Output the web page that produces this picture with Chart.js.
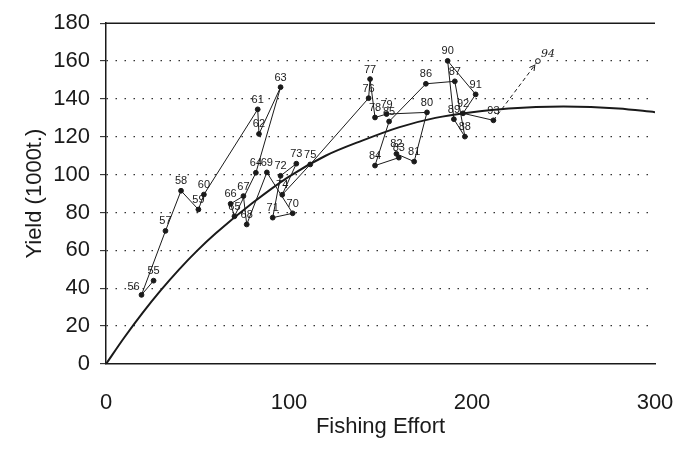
<!DOCTYPE html>
<html lang="en">
<head>
<meta charset="UTF-8">
<title>Fishing Effort vs Yield</title>
<script src="https://cdn.jsdelivr.net/npm/chart.js"></script>
<style>
  html, body { margin: 0; padding: 0; background: #fff; }
</style>
</head>
<body>
<canvas id="yieldChart" width="686" height="450"></canvas>
<script>
// observed yearly points (year label, fishing effort, yield in 1000 t)
const years = ['55','56','57','58','59','60','61','62','63','64','65','66','67','68','69','70','71','72','73','74',
               '75','76','77','78','79','80','81','82','83','84','85','86','87','88','89','90','91','92','93','94'];
const effort = [26, 19.4, 32.5, 41, 50.5, 53.5, 82.9, 83.6, 95.4, 81.9, 70.2, 68.1, 75.1, 76.9, 87.9, 102, 91.1, 95.4, 104, 96.3,
                111.6, 143.5, 144.3, 147, 153.3, 175.4, 168.4, 158.7, 160, 147, 154.7, 174.8, 190.6, 196.1, 190.1, 186.7, 202, 195.1, 211.7, 236];
const yieldObs = [44, 36.5, 70.3, 91.5, 81.6, 89.5, 134.5, 121.5, 146.2, 101, 78, 84.6, 88.7, 73.7, 101.2, 79.6, 77.3, 99.4, 105.8, 89.4,
                  105.4, 140.4, 150.5, 130.2, 132, 132.9, 106.9, 111, 109, 104.8, 128.1, 148, 149.3, 120.1, 129.3, 160.1, 142.4, 132.4, 128.7, 160];

// fitted production curve
const curveEffort = [0, 10, 20, 30, 40, 50, 60, 80, 100, 120, 140, 160, 180, 200, 220, 250, 280, 300];
const curveYield  = [0, 14, 27, 39, 50, 60, 69, 85, 99, 110, 118, 125, 130, 133, 135, 136, 135, 133];

const xTickValues = [0, 100, 200, 300];

const ink = '#1a1a1a';
const lastIdx = years.length - 1;

// label offsets that differ from the default (centred above the point)
const labelShift = { '56': [-8, 2], '94': [10, 3] };

const pointLabels = {
    id: 'pointLabels',
    afterDatasetsDraw(chart) {
        const ctx = chart.ctx;
        const meta = chart.getDatasetMeta(0);
        ctx.save();
        ctx.fillStyle = ink;
        ctx.textAlign = 'center';
        ctx.textBaseline = 'bottom';
        meta.data.forEach((pt, i) => {
            const s = labelShift[years[i]] || [0, 0];
            ctx.font = years[i] === '94' ? 'italic 11px "DejaVu Serif"' : '11px "Liberation Sans"';
            ctx.fillText(years[i], pt.x + s[0], pt.y - 4 + s[1]);
        });
        // small arrow head on the dashed projection to 94
        const a = meta.data[lastIdx - 1], b = meta.data[lastIdx];
        const ang = Math.atan2(b.y - a.y, b.x - a.x);
        const tipX = b.x - 5 * Math.cos(ang), tipY = b.y - 5 * Math.sin(ang);
        ctx.strokeStyle = ink;
        ctx.lineWidth = 1;
        ctx.beginPath();
        ctx.moveTo(tipX - 6 * Math.cos(ang - 0.5), tipY - 6 * Math.sin(ang - 0.5));
        ctx.lineTo(tipX, tipY);
        ctx.lineTo(tipX - 6 * Math.cos(ang + 0.5), tipY - 6 * Math.sin(ang + 0.5));
        ctx.stroke();
        // top frame line
        const area = chart.chartArea;
        ctx.lineWidth = 1.5;
        ctx.beginPath();
        ctx.moveTo(area.left, area.top);
        ctx.lineTo(area.right, area.top);
        ctx.stroke();
        ctx.restore();
    }
};

new Chart(document.getElementById('yieldChart'), {
    type: 'scatter',
    data: {
        datasets: [
            {
                label: 'Observed',
                data: effort.map((e, i) => ({ x: e, y: yieldObs[i] })),
                showLine: true,
                borderColor: ink,
                borderWidth: 1,
                pointRadius: 2.4,
                pointHoverRadius: 2.4,
                pointBorderWidth: 1,
                pointBorderColor: ink,
                pointBackgroundColor: ctx => ctx.dataIndex === lastIdx ? '#fff' : ink,
                segment: {
                    borderDash: ctx => ctx.p1DataIndex === lastIdx ? [4, 3] : undefined
                }
            },
            {
                label: 'Model',
                data: curveEffort.map((e, i) => ({ x: e, y: curveYield[i] })),
                showLine: true,
                borderColor: ink,
                borderWidth: 2,
                pointRadius: 0,
                cubicInterpolationMode: 'monotone'
            }
        ]
    },
    options: {
        responsive: false,
        animation: false,
        layout: { padding: { top: 20, right: 31, left: 0, bottom: 0 } },
        plugins: {
            legend: { display: false },
            tooltip: { enabled: false }
        },
        scales: {
            x: {
                type: 'linear',
                min: 0,
                max: 300,
                afterBuildTicks: scale => { scale.ticks = xTickValues.map(v => ({ value: v })); },
                afterFit: scale => { scale.height = 86; },
                grid: { display: false, drawTicks: true, tickLength: 23 },
                border: { display: true, color: ink, width: 1.5 },
                ticks: {
                    color: ink,
                    padding: 3,
                    maxRotation: 0,
                    font: { family: '"Liberation Sans", Arial, sans-serif', size: 22 }
                },
                title: {
                    display: true,
                    text: 'Fishing Effort',
                    color: ink,
                    padding: { top: 0, bottom: 10 },
                    font: { family: '"Liberation Sans", Arial, sans-serif', size: 22 }
                }
            },
            y: {
                min: 0,
                max: 180,
                afterFit: scale => { scale.width = 106; },
                ticks: {
                    stepSize: 10,
                    color: ink,
                    padding: 10,
                    callback: v => (v % 20 === 0 ? v : ''),
                    font: { family: '"Liberation Sans", Arial, sans-serif', size: 22 }
                },
                grid: {
                    color: ctx => {
                        const v = ctx.tick ? ctx.tick.value : 0;
                        return (v % 20 === 0 && v > 0 && v < 180) ? '#333' : 'rgba(0,0,0,0)';
                    },
                    lineWidth: 1.3,
                    tickColor: ink,
                    tickLength: 6,
                    tickWidth: 1
                },
                border: { display: true, color: ink, width: 1.5, dash: [1.5, 7.5] },
                title: {
                    display: true,
                    text: 'Yield (1000t.)',
                    color: ink,
                    padding: { top: 22, bottom: 0 },
                    font: { family: '"Liberation Sans", Arial, sans-serif', size: 22 }
                }
            }
        }
    },
    plugins: [pointLabels]
});
</script>
</body>
</html>
